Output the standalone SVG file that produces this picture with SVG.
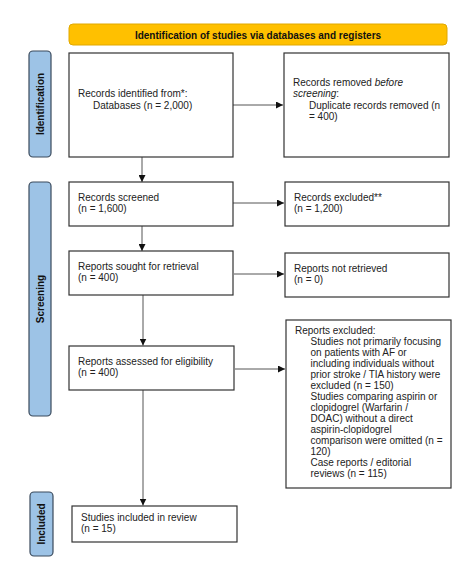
<svg xmlns="http://www.w3.org/2000/svg" width="468" height="574" viewBox="0 0 468 574">
<style>
.box{fill:#fff;stroke:#333;stroke-width:1.2}
.side{fill:#9DC3E6;stroke:#3a4a5c;stroke-width:1.2}
.hdr{fill:#FFC000;stroke:#E0A800;stroke-width:1}
text{font-family:"Liberation Sans",Arial,sans-serif;font-size:10px;fill:#222}
.b{font-weight:bold;font-size:10px;fill:#111}
.c{stroke:#555;stroke-width:1;fill:none;marker-end:url(#ah)}
</style>
<defs>
<marker id="ah" viewBox="0 0 10 10" refX="10" refY="5" markerWidth="7" markerHeight="7" markerUnits="userSpaceOnUse" orient="auto">
<path d="M0,0 L10,5 L0,10 z" fill="#111"/>
</marker>
</defs>
<rect width="468" height="574" fill="#fff"/>
<g id="header">
<rect class="hdr" x="69" y="24" width="378" height="21" rx="4"/>
<text class="b" x="258" y="38.5" text-anchor="middle">Identification of studies via databases and registers</text>
</g>
<g id="side-identification">
<rect class="side" x="29" y="51" width="22" height="106" rx="4"/>
<text class="b" transform="translate(43.6,104) rotate(-90)" text-anchor="middle">Identification</text>
</g>
<g id="side-screening">
<rect class="side" x="29" y="182" width="22" height="234" rx="4"/>
<text class="b" transform="translate(43.6,299) rotate(-90)" text-anchor="middle">Screening</text>
</g>
<g id="side-included">
<rect class="side" x="30" y="492" width="23" height="64" rx="4"/>
<text class="b" transform="translate(45.1,524) rotate(-90)" text-anchor="middle">Included</text>
</g>
<g id="connectors">
<line class="c" x1="233" y1="105" x2="283" y2="105"/>
<line class="c" x1="142" y1="157" x2="142" y2="182"/>
<line class="c" x1="233" y1="203" x2="284" y2="203"/>
<line class="c" x1="142" y1="226" x2="142" y2="251"/>
<line class="c" x1="234" y1="274" x2="284" y2="274"/>
<line class="c" x1="143" y1="295" x2="143" y2="345.5"/>
<line class="c" x1="235" y1="369" x2="285" y2="369"/>
<line class="c" x1="143" y1="390" x2="143" y2="505.5"/>
</g>
<g id="records-identified">
<rect class="box" x="69" y="53" width="164" height="104"/>
<text x="78" y="97">Records identified from*:</text>
<text x="93" y="108.5">Databases (n = 2,000)</text>
</g>
<g id="records-removed">
<rect class="box" x="284" y="53" width="165" height="104"/>
<text x="293" y="85.5">Records removed <tspan font-style="italic">before</tspan></text>
<text x="293" y="97"><tspan font-style="italic">screening</tspan>:</text>
<text x="309" y="108.5">Duplicate records removed (n</text>
<text x="309" y="120">= 400)</text>
</g>
<g id="records-screened">
<rect class="box" x="69" y="182" width="164" height="44"/>
<text x="78" y="201">Records screened</text>
<text x="78" y="212">(n = 1,600)</text>
</g>
<g id="records-excluded">
<rect class="box" x="285" y="182" width="164" height="44"/>
<text x="294" y="201">Records excluded**</text>
<text x="294" y="212">(n = 1,200)</text>
</g>
<g id="reports-sought">
<rect class="box" x="69" y="251" width="164" height="44"/>
<text x="78" y="270">Reports sought for retrieval</text>
<text x="78" y="281">(n = 400)</text>
</g>
<g id="reports-not-retrieved">
<rect class="box" x="285" y="253" width="164" height="44"/>
<text x="294" y="272">Reports not retrieved</text>
<text x="294" y="283">(n = 0)</text>
</g>
<g id="reports-assessed">
<rect class="box" x="69" y="346" width="165" height="44"/>
<text x="78" y="365">Reports assessed for eligibility</text>
<text x="78" y="376">(n = 400)</text>
</g>
<g id="reports-excluded">
<rect class="box" x="286" y="320" width="165" height="168"/>
<text x="295" y="334">Reports excluded:</text>
<text x="310.5" y="345">Studies not primarily focusing</text>
<text x="310.5" y="356">on patients with AF or</text>
<text x="310.5" y="367">including individuals without</text>
<text x="310.5" y="378">prior stroke / TIA history were</text>
<text x="310.5" y="389">excluded (n = 150)</text>
<text x="310.5" y="400">Studies comparing aspirin or</text>
<text x="310.5" y="411">clopidogrel (Warfarin /</text>
<text x="310.5" y="422">DOAC) without a direct</text>
<text x="310.5" y="433">aspirin-clopidogrel</text>
<text x="310.5" y="444">comparison were omitted (n =</text>
<text x="310.5" y="455">120)</text>
<text x="310.5" y="466">Case reports / editorial</text>
<text x="310.5" y="477">reviews (n = 115)</text>
</g>
<g id="studies-included">
<rect class="box" x="72" y="506" width="165" height="36"/>
<text x="81" y="520.5">Studies included in review</text>
<text x="81" y="531.5">(n = 15)</text>
</g>
</svg>
